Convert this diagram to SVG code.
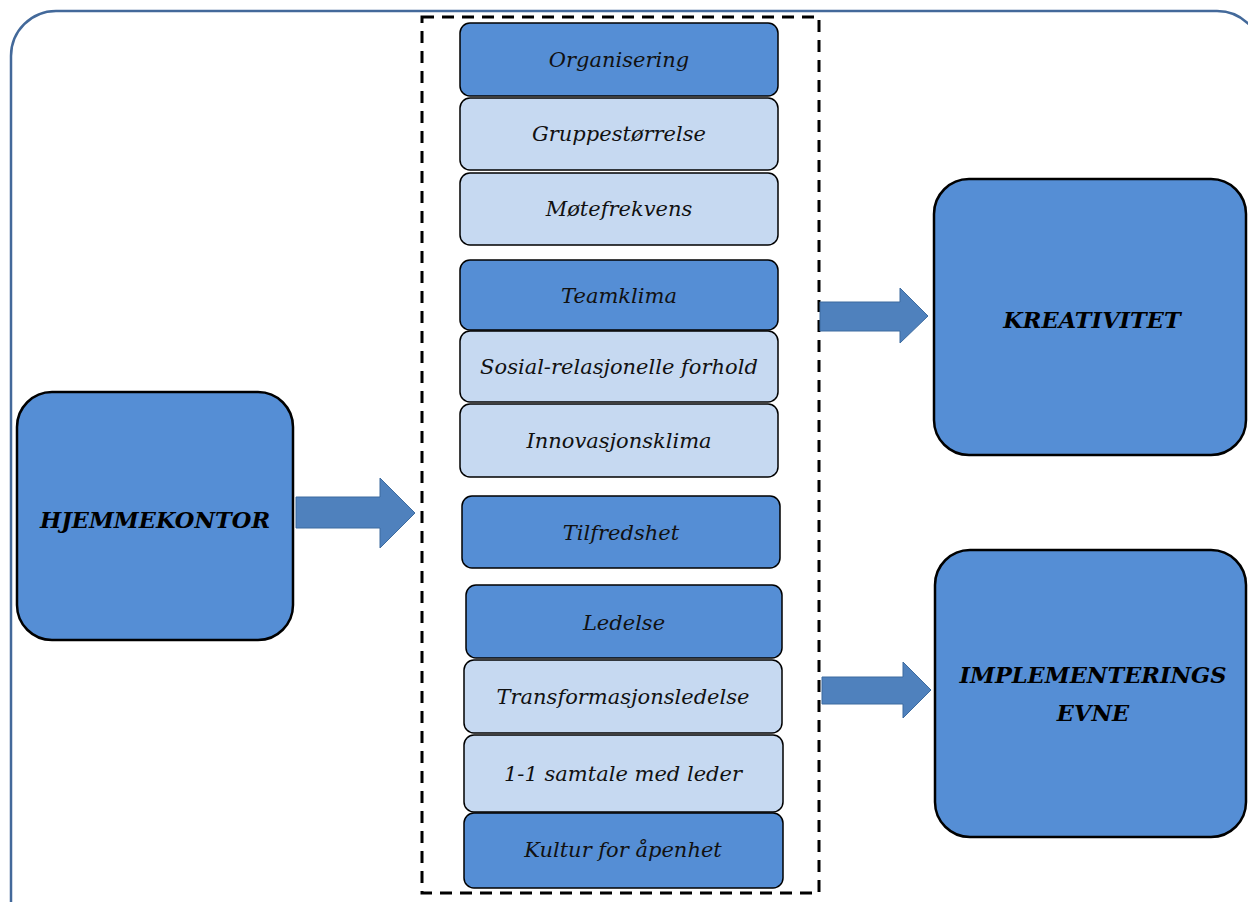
<svg xmlns="http://www.w3.org/2000/svg" width="1248" height="902" viewBox="0 0 1248 902">
<style>
.dark{fill:#558ed5;stroke:#000;stroke-width:1.5}
.light{fill:#c6d9f1;stroke:#000;stroke-width:1.5}
.big{fill:#558ed5;stroke:#000;stroke-width:2.5}
.t{font-family:"DejaVu Serif",serif;font-style:italic;font-size:21px;fill:#111;text-anchor:middle;dominant-baseline:central}
.b{font-family:"DejaVu Serif",serif;font-style:italic;font-weight:bold;font-size:22.5px;fill:#000;text-anchor:middle;dominant-baseline:central}
.arrow{fill:#4f81bd;stroke:#3d6b9f;stroke-width:1}
</style>
<rect x="11" y="11" width="1251" height="940" rx="45" fill="#fff" stroke="#43699a" stroke-width="2.5"/>
<rect id="frame" x="422" y="17" width="397" height="876" fill="none" stroke="#000" stroke-width="3" stroke-dasharray="12 8"/>
<g id="organisering"><rect class="dark" x="460" y="23" width="318" height="73" rx="10"/><text class="t" x="619" y="60">Organisering</text></g>
<g id="gruppestorrelse"><rect class="light" x="460" y="98" width="318" height="72" rx="10"/><text class="t" x="619" y="134">Gruppestørrelse</text></g>
<g id="motefrekvens"><rect class="light" x="460" y="173" width="318" height="72" rx="10"/><text class="t" x="619" y="209">Møtefrekvens</text></g>
<g id="teamklima"><rect class="dark" x="460" y="260" width="318" height="70" rx="10"/><text class="t" x="619" y="296">Teamklima</text></g>
<g id="sosial"><rect class="light" x="460" y="331" width="318" height="71" rx="10"/><text class="t" x="619" y="367">Sosial-relasjonelle forhold</text></g>
<g id="innovasjonsklima"><rect class="light" x="460" y="404" width="318" height="73" rx="10"/><text class="t" x="619" y="441">Innovasjonsklima</text></g>
<g id="tilfredshet"><rect class="dark" x="462" y="496" width="318" height="72" rx="10"/><text class="t" x="621" y="533">Tilfredshet</text></g>
<g id="ledelse"><rect class="dark" x="466" y="585" width="316" height="73" rx="10"/><text class="t" x="624" y="623">Ledelse</text></g>
<g id="transformasjonsledelse"><rect class="light" x="464" y="660" width="318" height="73" rx="10"/><text class="t" x="623" y="697">Transformasjonsledelse</text></g>
<g id="samtale"><rect class="light" x="464" y="735" width="319" height="77" rx="10"/><text class="t" x="623" y="774">1-1 samtale med leder</text></g>
<g id="kultur"><rect class="dark" x="464" y="813" width="319" height="75" rx="10"/><text class="t" x="623" y="850">Kultur for åpenhet</text></g>
<g id="hjemmekontor"><rect class="big" x="17" y="392" width="276" height="248" rx="35"/><text class="b" x="155" y="520">HJEMMEKONTOR</text></g>
<g id="kreativitet"><rect class="big" x="934" y="179" width="312" height="276" rx="35"/><text class="b" x="1092" y="320">KREATIVITET</text></g>
<g id="implementering"><rect class="big" x="935" y="550" width="311" height="287" rx="35"/><text class="b" x="1093" y="675">IMPLEMENTERINGS</text><text class="b" x="1093" y="713">EVNE</text></g>
<g id="connectors">
<polygon class="arrow" points="296,497 380,497 380,478 415,513 380,548 380,528 296,528"/>
<polygon class="arrow" points="820,302 900,302 900,288 928,316 900,343 900,331 820,331"/>
<polygon class="arrow" points="822,677 903,677 903,662 931,690 903,718 903,704 822,704"/>
</g>
</svg>
